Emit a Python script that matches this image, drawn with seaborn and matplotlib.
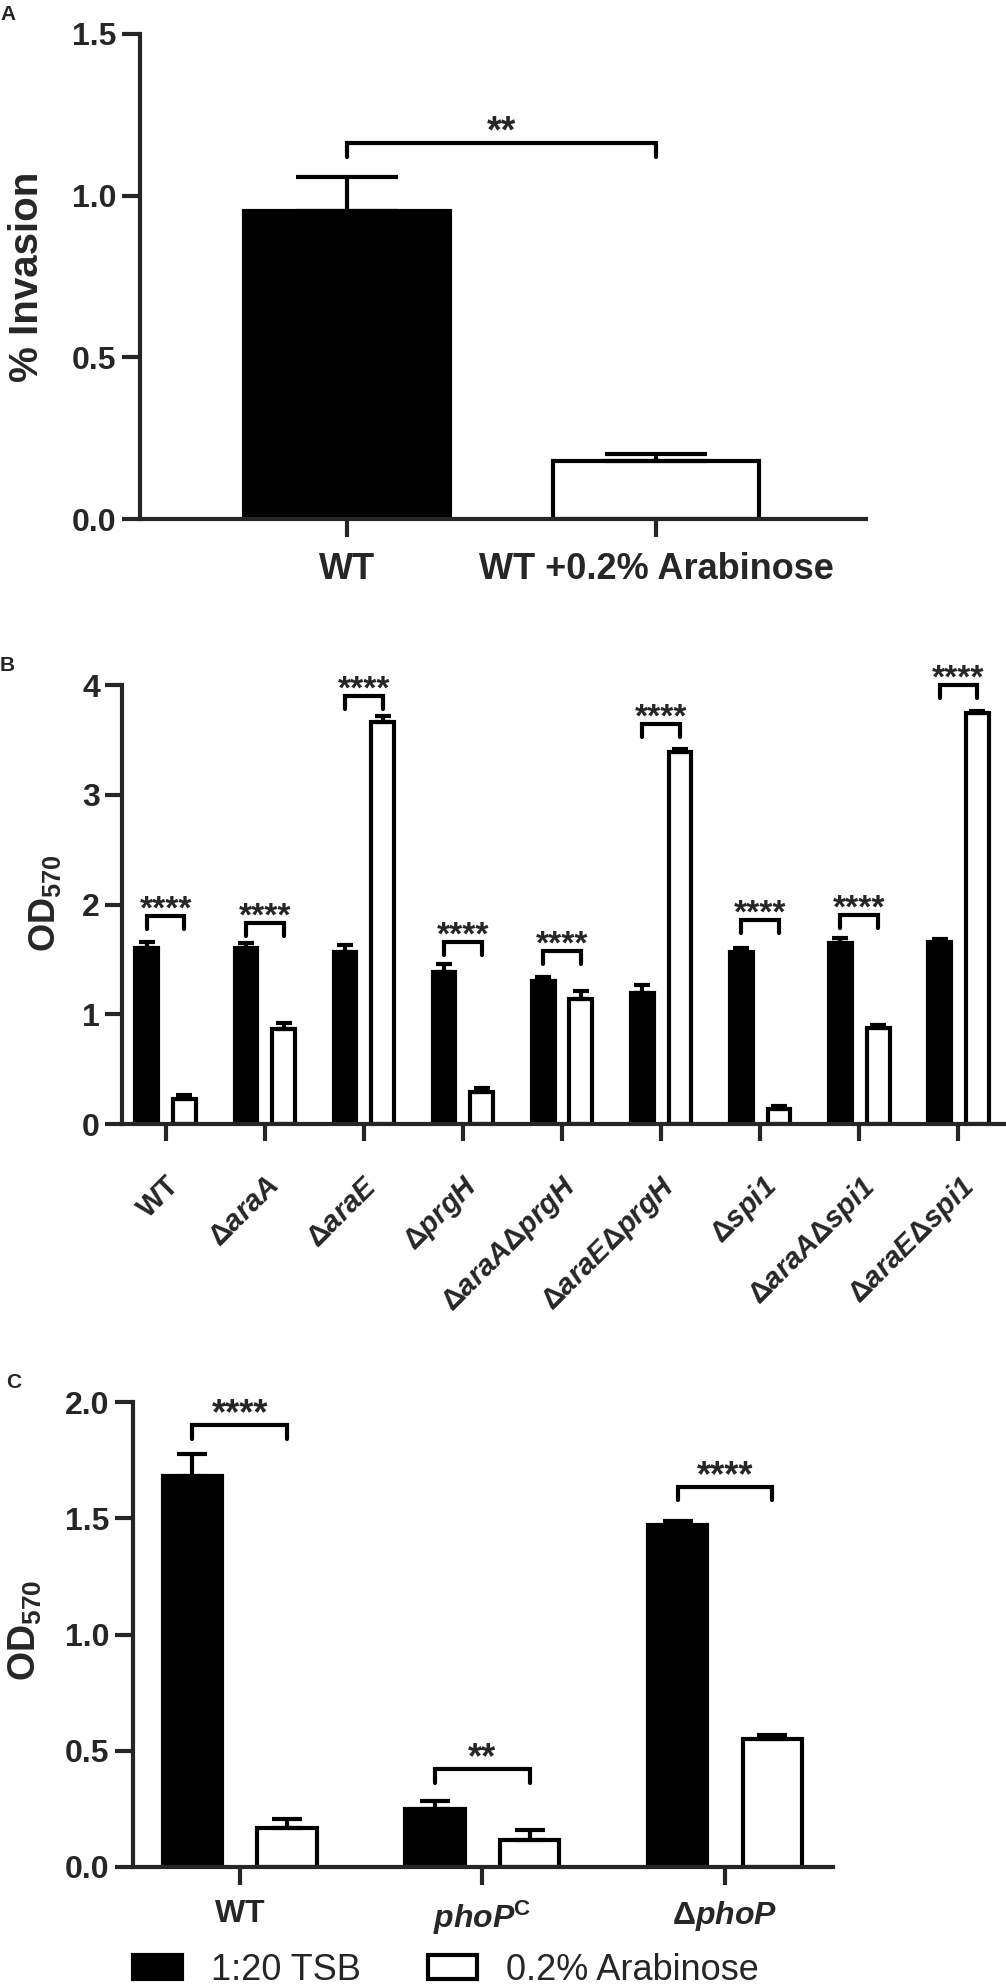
import numpy as np
import pandas as pd
import matplotlib
matplotlib.use('Agg')
import matplotlib.pyplot as plt
import seaborn as sns

# ---- data ----
# Panel A: % invasion
a_groups = ['WT', 'WT +0.2% Arabinose']
a_mean = [0.952, 0.178]
a_err = [0.107, 0.023]
a_sig = '**'
a_sig_y = 1.164

# Panel B: OD570 biofilm, 1:20 TSB vs 0.2% arabinose
media = ['1:20 TSB', '0.2% Arabinose']
b_strains = ['WT', 'araA', 'araE', 'prgH', 'araA prgH', 'araE prgH',
             'spi1', 'araA spi1', 'araE spi1']
D = r'\mathrm{\Delta}'
b_labels = [r'$\mathbf{WT}$', rf'${D}\mathbfit{{araA}}$', rf'${D}\mathbfit{{araE}}$',
            rf'${D}\mathbfit{{prgH}}$', rf'${D}\mathbfit{{araA}}{D}\mathbfit{{prgH}}$',
            rf'${D}\mathbfit{{araE}}{D}\mathbfit{{prgH}}$', rf'${D}\mathbfit{{spi1}}$',
            rf'${D}\mathbfit{{araA}}{D}\mathbfit{{spi1}}$',
            rf'${D}\mathbfit{{araE}}{D}\mathbfit{{spi1}}$']
b_tsb = [1.607, 1.607, 1.570, 1.385, 1.303, 1.197, 1.570, 1.652, 1.655]
b_tsb_err = [0.054, 0.045, 0.058, 0.070, 0.039, 0.067, 0.037, 0.046, 0.035]
b_ara = [0.225, 0.863, 3.666, 0.294, 1.139, 3.392, 0.140, 0.872, 3.748]
b_ara_err = [0.036, 0.060, 0.052, 0.037, 0.076, 0.022, 0.027, 0.028, 0.018]
b_sig = ['****'] * 9
b_sig_y = [1.895, 1.835, 3.900, 1.658, 1.580, 3.645, 1.859, 1.904, 4.000]

# Panel C
c_strains = ['WT', 'phoPc', 'dphoP']
c_labels = [r'$\mathbf{WT}$', r'$\mathbfit{phoP}^{\mathrm{C}}$', rf'${D}\mathbfit{{phoP}}$']
c_tsb = [1.683, 0.249, 1.471]
c_tsb_err = [0.093, 0.035, 0.017]
c_ara = [0.168, 0.116, 0.550]
c_ara_err = [0.039, 0.041, 0.018]
c_sig = ['****', '**', '****']
c_sig_y = [1.900, 0.420, 1.634]

# ---- style ----
sns.set_style('ticks')
FAM = ['Liberation Sans', 'DejaVu Sans']
plt.rcParams['font.family'] = FAM
plt.rcParams['font.weight'] = 'bold'
plt.rcParams['mathtext.fontset'] = 'custom'
plt.rcParams['mathtext.rm'] = 'Liberation Sans'
plt.rcParams['mathtext.it'] = 'Liberation Sans:italic'
plt.rcParams['mathtext.bf'] = 'Liberation Sans:bold'
plt.rcParams['mathtext.bfit'] = 'Liberation Sans:italic:bold'
plt.rcParams['axes.linewidth'] = 3

pal = {'1:20 TSB': 'black', '0.2% Arabinose': 'white'}
LW = 3

fig = plt.figure(figsize=(10.06, 19.87), dpi=100)
axA = fig.add_axes([0.1392, 0.7388, 0.7217, 0.2441])
axB = fig.add_axes([0.1213, 0.4343, 0.8767, 0.2209])
axC = fig.add_axes([0.1322, 0.0604, 0.6958, 0.2340])


def bar_centers(ax):
    xs = []
    for cont in ax.containers:
        xs.append([b.get_x() + b.get_width() / 2 for b in cont])
    return xs


def add_err(ax, xs, ys, es, cap):
    ax.errorbar(xs, ys, yerr=[np.zeros(len(es)), es], fmt='none', ecolor='black',
                elinewidth=LW, capsize=cap, capthick=LW, zorder=1)


def bracket(ax, x1, x2, y, depth, text, fs, dy):
    ax.plot([x1, x1, x2, x2], [y - depth, y, y, y - depth], color='black', lw=LW,
            clip_on=False, solid_joinstyle='miter')
    ax.annotate(text, xy=((x1 + x2) / 2, y), xytext=(0, dy), textcoords='offset points',
                ha='center', va='baseline', fontsize=fs, fontweight='bold',
                annotation_clip=False)


def style_axis(ax, size, length):
    sns.despine(ax=ax)
    ax.tick_params(axis='both', width=LW, length=length, labelsize=size, pad=4)
    ax.set_xlabel('')
    ax.set_ylabel('')


# ---- Panel A ----
dfA = pd.DataFrame({'group': a_groups, 'inv': a_mean})
sns.barplot(data=dfA, x='group', y='inv', hue='group', palette=['black', 'white'],
            edgecolor='black', linewidth=LW, width=0.667, errorbar=None,
            legend=False, ax=axA)
xa = [x for c in bar_centers(axA) for x in c]
add_err(axA, xa, a_mean, a_err, 37)
axA.set_xlim(-0.67, 1.68)
axA.set_ylim(0, 1.5)
axA.set_yticks([0, 0.5, 1.0, 1.5])
axA.set_yticklabels(['0.0', '0.5', '1.0', '1.5'])
style_axis(axA, 23, 13)
axA.tick_params(axis='x', pad=11, labelsize=26)
bracket(axA, xa[0], xa[1], a_sig_y, 0.046, a_sig, 27, 0)

# ---- Panel B ----
dfB = pd.DataFrame({'strain': b_strains * 2,
                    'medium': [media[0]] * 9 + [media[1]] * 9,
                    'od': b_tsb + b_ara})
sns.barplot(data=dfB, x='strain', y='od', hue='medium', hue_order=media, palette=pal,
            edgecolor='black', linewidth=LW, width=0.76, gap=0.395, errorbar=None,
            legend=False, ax=axB)
xb = bar_centers(axB)
add_err(axB, xb[0], b_tsb, b_tsb_err, 6)
add_err(axB, xb[1], b_ara, b_ara_err, 6)
axB.set_xlim(-0.44, 8.46)
axB.set_ylim(0, 4)
axB.set_yticks([0, 1, 2, 3, 4])
style_axis(axB, 23, 12)
axB.set_xticks(range(len(b_strains)))
axB.set_xticklabels(b_labels, rotation=45, ha='right', va='top', rotation_mode='anchor',
                    fontsize=21)
axB.tick_params(axis='x', pad=22)
for i in range(len(b_strains)):
    bracket(axB, xb[0][i], xb[1][i], b_sig_y[i], 0.12, b_sig[i], 24, -2)

# ---- Panel C ----
dfC = pd.DataFrame({'strain': c_strains * 2,
                    'medium': [media[0]] * 3 + [media[1]] * 3,
                    'od': c_tsb + c_ara})
sns.barplot(data=dfC, x='strain', y='od', hue='medium', hue_order=media, palette=pal,
            edgecolor='black', linewidth=LW, width=0.78, gap=0.37, errorbar=None,
            legend=False, ax=axC)
xc = bar_centers(axC)
add_err(axC, xc[0], c_tsb, c_tsb_err, 10.5)
add_err(axC, xc[1], c_ara, c_ara_err, 10.5)
axC.set_xlim(-0.44, 2.445)
axC.set_ylim(0, 2.0)
axC.set_yticks([0, 0.5, 1.0, 1.5, 2.0])
axC.set_yticklabels(['0.0', '0.5', '1.0', '1.5', '2.0'])
style_axis(axC, 23, 13)
axC.set_xticks(range(len(c_strains)))
axC.set_xticklabels(c_labels, fontsize=23)
axC.tick_params(axis='x', pad=10)
for i in range(len(c_strains)):
    bracket(axC, xc[0][i], xc[1][i], c_sig_y[i], 0.057, c_sig[i], 26, 1)

# legend
handles = [plt.Rectangle((0, 0), 1, 1, facecolor=pal[m], edgecolor='black', linewidth=LW)
           for m in media]
fig.legend(handles, media, loc='center', bbox_to_anchor=(446 / 1006, 1 - 1970 / 1987),
           ncol=2, frameon=False, handlelength=1.36, handleheight=0.67,
           handletextpad=0.8, columnspacing=1.86, borderpad=0.2,
           prop={'family': FAM, 'weight': 'normal', 'size': 26})

# y labels and panel letters
fig.text(27 / 1006, 1 - 277 / 1987, '% Invasion', rotation=90, ha='center', va='center',
         fontsize=29, fontweight='bold')
fig.text(45 / 1006, 1 - 903 / 1987, r'$\mathbf{OD}_{\mathbf{570}}$', rotation=90,
         ha='center', va='center', fontsize=26)
fig.text(25 / 1006, 1 - 1630 / 1987, r'$\mathbf{OD}_{\mathbf{570}}$', rotation=90,
         ha='center', va='center', fontsize=27)
for lab, x, y in [('A', 0, 15), ('B', 0, 665), ('C', 6, 1383)]:
    fig.text(x / 1006, 1 - y / 1987, lab, ha='left', va='center', fontsize=15,
             fontweight='bold')

fig.savefig('out.png', dpi=100)
